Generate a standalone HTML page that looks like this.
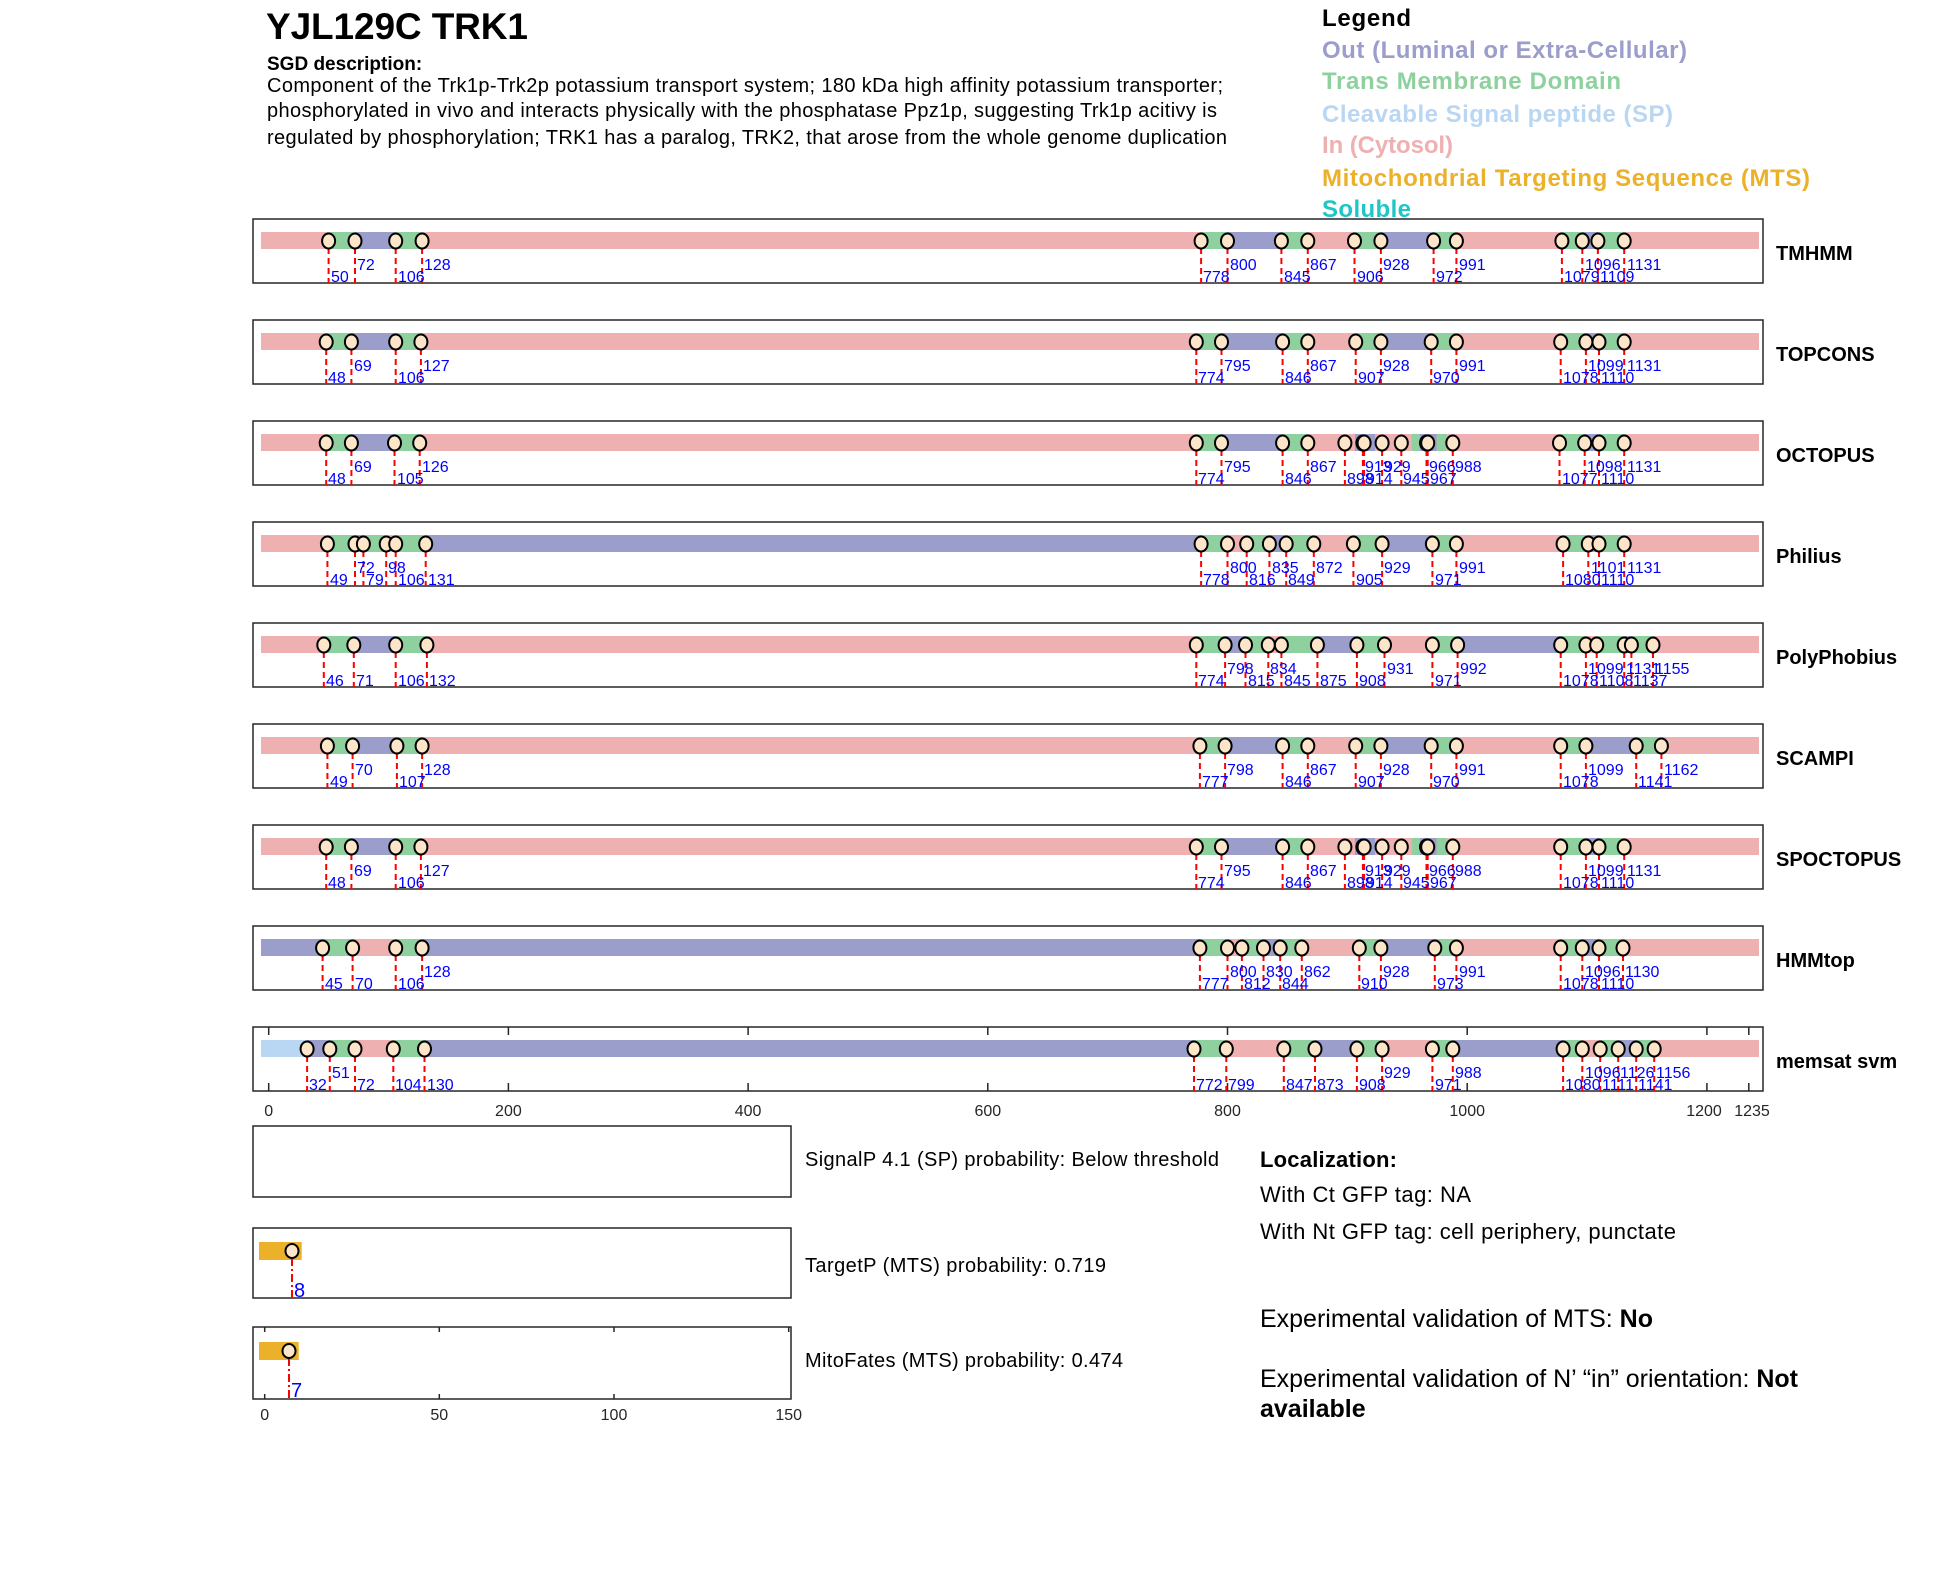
<!DOCTYPE html>
<html><head><meta charset="utf-8"><style>
html,body{margin:0;padding:0;background:#fff;}
svg{display:block;font-family:"Liberation Sans",Arial,sans-serif;}
.bx{fill:none;stroke:#262626;stroke-width:1.5}
.P{fill:#efb0b2}.B{fill:#9b9dcb}.G{fill:#8fd19e}.S{fill:#b9d6f2}.M{fill:#ecb12a}
.dl{fill:none;stroke:#ff0000;stroke-width:2;stroke-dasharray:6,4}
.dd{fill:none;stroke:#ff0000;stroke-width:2;stroke-dasharray:8,3,2,3}
ellipse{fill:#fde5c9;stroke:#000;stroke-width:2}
.l{fill:#0000ff;font-size:16px}
.tn{font-size:20px;font-weight:bold;fill:#000}
.tk{font-size:16px;fill:#262626;text-anchor:middle}
.tick{stroke:#262626;stroke-width:1.5}
</style></head><body>
<svg width="1950" height="1573" viewBox="0 0 1950 1573" xmlns="http://www.w3.org/2000/svg">
<rect width="1950" height="1573" fill="#fff"/>
<text x="266" y="39" font-size="37" font-weight="bold" textLength="262">YJL129C  TRK1</text>
<text x="267" y="70" font-size="19" font-weight="bold">SGD description:</text>
<text x="267" y="92" font-size="20" textLength="956">Component of the Trk1p-Trk2p potassium transport system; 180 kDa high affinity potassium transporter;</text>
<text x="267" y="117" font-size="20" textLength="950">phosphorylated in vivo and interacts physically with the phosphatase Ppz1p, suggesting Trk1p acitivy is</text>
<text x="267" y="144" font-size="20" textLength="960">regulated by phosphorylation; TRK1 has a paralog, TRK2, that arose from the whole genome duplication</text>

<g font-size="24" font-weight="bold">
<text x="1322" y="26" fill="#000" textLength="89">Legend</text>
<text x="1322" y="58" fill="#9b9dcb" textLength="365">Out (Luminal or Extra-Cellular)</text>
<text x="1322" y="89" fill="#8fd19e" textLength="299">Trans Membrane Domain</text>
<text x="1322" y="122" fill="#b9d6f2" textLength="351">Cleavable Signal peptide (SP)</text>
<text x="1322" y="153" fill="#efb0b2" textLength="131">In (Cytosol)</text>
<text x="1322" y="186" fill="#ecb12a" textLength="488">Mitochondrial Targeting Sequence (MTS)</text>
<text x="1322" y="217" fill="#1fc6c6" textLength="89">Soluble</text>
</g>

<!-- TMHMM -->
<g transform="translate(0,219)">
<rect class="bx" x="253" y="0" width="1510" height="64"/>
<rect class="P" x="261" y="13" width="1498" height="17"/>
<rect class="G" x="328.6" y="13" width="26.4" height="17"/><rect class="B" x="355" y="13" width="40.7" height="17"/><rect class="G" x="395.7" y="13" width="26.4" height="17"/>
<rect class="G" x="1201.1" y="13" width="26.4" height="17"/><rect class="B" x="1227.5" y="13" width="53.9" height="17"/><rect class="G" x="1281.4" y="13" width="26.4" height="17"/>
<rect class="G" x="1354.5" y="13" width="26.4" height="17"/><rect class="B" x="1380.9" y="13" width="52.7" height="17"/><rect class="G" x="1433.6" y="13" width="22.8" height="17"/>
<rect class="G" x="1561.9" y="13" width="20.4" height="17"/><rect class="B" x="1582.3" y="13" width="15.6" height="17"/><rect class="G" x="1597.9" y="13" width="26.3" height="17"/>
<path class="dl" d="M328.6 29V64M355 29V64M395.7 29V64M422.1 29V64M1201.1 29V64M1227.5 29V64M1281.4 29V64M1307.8 29V64M1354.5 29V64M1380.9 29V64M1433.6 29V64M1456.4 29V64M1561.9 29V64M1582.3 29V64M1597.9 29V64M1624.2 29V64"/>
<ellipse cx="328.6" cy="22" rx="6.5" ry="7.5"/><ellipse cx="355" cy="22" rx="6.5" ry="7.5"/><ellipse cx="395.7" cy="22" rx="6.5" ry="7.5"/><ellipse cx="422.1" cy="22" rx="6.5" ry="7.5"/><ellipse cx="1201.1" cy="22" rx="6.5" ry="7.5"/><ellipse cx="1227.5" cy="22" rx="6.5" ry="7.5"/><ellipse cx="1281.4" cy="22" rx="6.5" ry="7.5"/><ellipse cx="1307.8" cy="22" rx="6.5" ry="7.5"/><ellipse cx="1354.5" cy="22" rx="6.5" ry="7.5"/><ellipse cx="1380.9" cy="22" rx="6.5" ry="7.5"/><ellipse cx="1433.6" cy="22" rx="6.5" ry="7.5"/><ellipse cx="1456.4" cy="22" rx="6.5" ry="7.5"/><ellipse cx="1561.9" cy="22" rx="6.5" ry="7.5"/><ellipse cx="1582.3" cy="22" rx="6.5" ry="7.5"/><ellipse cx="1597.9" cy="22" rx="6.5" ry="7.5"/><ellipse cx="1624.2" cy="22" rx="6.5" ry="7.5"/>
<text class="l" x="331" y="63">50</text><text class="l" x="357" y="51">72</text><text class="l" x="398" y="63">106</text><text class="l" x="424" y="51">128</text><text class="l" x="1203" y="63">778</text><text class="l" x="1230" y="51">800</text><text class="l" x="1284" y="63">845</text><text class="l" x="1310" y="51">867</text><text class="l" x="1357" y="63">906</text><text class="l" x="1383" y="51">928</text><text class="l" x="1436" y="63">972</text><text class="l" x="1459" y="51">991</text><text class="l" x="1564" y="63">1079</text><text class="l" x="1585" y="51">1096</text><text class="l" x="1600" y="63">1109</text><text class="l" x="1627" y="51">1131</text>
<text class="tn" x="1776" y="41">TMHMM</text>
</g>

<!-- TOPCONS -->
<g transform="translate(0,320)">
<rect class="bx" x="253" y="0" width="1510" height="64"/>
<rect class="P" x="261" y="13" width="1498" height="17"/>
<rect class="G" x="326.2" y="13" width="25.2" height="17"/><rect class="B" x="351.4" y="13" width="44.3" height="17"/><rect class="G" x="395.7" y="13" width="25.2" height="17"/>
<rect class="G" x="1196.3" y="13" width="25.2" height="17"/><rect class="B" x="1221.5" y="13" width="61.1" height="17"/><rect class="G" x="1282.6" y="13" width="25.2" height="17"/>
<rect class="G" x="1355.7" y="13" width="25.2" height="17"/><rect class="B" x="1380.9" y="13" width="50.3" height="17"/><rect class="G" x="1431.2" y="13" width="25.2" height="17"/>
<rect class="G" x="1560.7" y="13" width="25.2" height="17"/><rect class="B" x="1585.9" y="13" width="13.1" height="17"/><rect class="G" x="1599" y="13" width="25.2" height="17"/>
<path class="dl" d="M326.2 29V64M351.4 29V64M395.7 29V64M420.9 29V64M1196.3 29V64M1221.5 29V64M1282.6 29V64M1307.8 29V64M1355.7 29V64M1380.9 29V64M1431.2 29V64M1456.4 29V64M1560.7 29V64M1585.9 29V64M1599 29V64M1624.2 29V64"/>
<ellipse cx="326.2" cy="22" rx="6.5" ry="7.5"/><ellipse cx="351.4" cy="22" rx="6.5" ry="7.5"/><ellipse cx="395.7" cy="22" rx="6.5" ry="7.5"/><ellipse cx="420.9" cy="22" rx="6.5" ry="7.5"/><ellipse cx="1196.3" cy="22" rx="6.5" ry="7.5"/><ellipse cx="1221.5" cy="22" rx="6.5" ry="7.5"/><ellipse cx="1282.6" cy="22" rx="6.5" ry="7.5"/><ellipse cx="1307.8" cy="22" rx="6.5" ry="7.5"/><ellipse cx="1355.7" cy="22" rx="6.5" ry="7.5"/><ellipse cx="1380.9" cy="22" rx="6.5" ry="7.5"/><ellipse cx="1431.2" cy="22" rx="6.5" ry="7.5"/><ellipse cx="1456.4" cy="22" rx="6.5" ry="7.5"/><ellipse cx="1560.7" cy="22" rx="6.5" ry="7.5"/><ellipse cx="1585.9" cy="22" rx="6.5" ry="7.5"/><ellipse cx="1599" cy="22" rx="6.5" ry="7.5"/><ellipse cx="1624.2" cy="22" rx="6.5" ry="7.5"/>
<text class="l" x="328" y="63">48</text><text class="l" x="354" y="51">69</text><text class="l" x="398" y="63">106</text><text class="l" x="423" y="51">127</text><text class="l" x="1198" y="63">774</text><text class="l" x="1224" y="51">795</text><text class="l" x="1285" y="63">846</text><text class="l" x="1310" y="51">867</text><text class="l" x="1358" y="63">907</text><text class="l" x="1383" y="51">928</text><text class="l" x="1433" y="63">970</text><text class="l" x="1459" y="51">991</text><text class="l" x="1563" y="63">1078</text><text class="l" x="1588" y="51">1099</text><text class="l" x="1601" y="63">1110</text><text class="l" x="1627" y="51">1131</text>
<text class="tn" x="1776" y="41">TOPCONS</text>
</g>

<!-- OCTOPUS -->
<g transform="translate(0,421)">
<rect class="bx" x="253" y="0" width="1510" height="64"/>
<rect class="P" x="261" y="13" width="1498" height="17"/>
<rect class="G" x="326.2" y="13" width="25.2" height="17"/><rect class="B" x="351.4" y="13" width="43.1" height="17"/><rect class="G" x="394.5" y="13" width="25.2" height="17"/>
<rect class="G" x="1196.3" y="13" width="25.2" height="17"/><rect class="B" x="1221.5" y="13" width="61.1" height="17"/><rect class="G" x="1282.6" y="13" width="25.2" height="17"/>
<rect class="B" x="1355" y="13" width="20" height="17"/><rect class="G" x="1411.7" y="13" width="8.3" height="17"/><rect class="B" x="1420" y="13" width="16.7" height="17"/><rect class="G" x="1436.7" y="13" width="10" height="17"/>
<rect class="G" x="1559.5" y="13" width="25.2" height="17"/><rect class="B" x="1584.7" y="13" width="14.3" height="17"/><rect class="G" x="1599" y="13" width="25.2" height="17"/>
<path class="dl" d="M326.2 29V64M351.4 29V64M394.5 29V64M419.7 29V64M1196.3 29V64M1221.5 29V64M1282.6 29V64M1307.8 29V64M1344.9 29V64M1362.9 29V64M1364.1 29V64M1382.1 29V64M1401.3 29V64M1426.5 29V64M1427.7 29V64M1452.8 29V64M1559.5 29V64M1584.7 29V64M1599 29V64M1624.2 29V64"/>
<ellipse cx="326.2" cy="22" rx="6.5" ry="7.5"/><ellipse cx="351.4" cy="22" rx="6.5" ry="7.5"/><ellipse cx="394.5" cy="22" rx="6.5" ry="7.5"/><ellipse cx="419.7" cy="22" rx="6.5" ry="7.5"/><ellipse cx="1196.3" cy="22" rx="6.5" ry="7.5"/><ellipse cx="1221.5" cy="22" rx="6.5" ry="7.5"/><ellipse cx="1282.6" cy="22" rx="6.5" ry="7.5"/><ellipse cx="1307.8" cy="22" rx="6.5" ry="7.5"/><ellipse cx="1344.9" cy="22" rx="6.5" ry="7.5"/><ellipse cx="1362.9" cy="22" rx="6.5" ry="7.5"/><ellipse cx="1364.1" cy="22" rx="6.5" ry="7.5"/><ellipse cx="1382.1" cy="22" rx="6.5" ry="7.5"/><ellipse cx="1401.3" cy="22" rx="6.5" ry="7.5"/><ellipse cx="1426.5" cy="22" rx="6.5" ry="7.5"/><ellipse cx="1427.7" cy="22" rx="6.5" ry="7.5"/><ellipse cx="1452.8" cy="22" rx="6.5" ry="7.5"/><ellipse cx="1559.5" cy="22" rx="6.5" ry="7.5"/><ellipse cx="1584.7" cy="22" rx="6.5" ry="7.5"/><ellipse cx="1599" cy="22" rx="6.5" ry="7.5"/><ellipse cx="1624.2" cy="22" rx="6.5" ry="7.5"/>
<text class="l" x="328" y="63">48</text><text class="l" x="354" y="51">69</text><text class="l" x="397" y="63">105</text><text class="l" x="422" y="51">126</text><text class="l" x="1198" y="63">774</text><text class="l" x="1224" y="51">795</text><text class="l" x="1285" y="63">846</text><text class="l" x="1310" y="51">867</text><text class="l" x="1347" y="63">898</text><text class="l" x="1365" y="51">913</text><text class="l" x="1366" y="63">914</text><text class="l" x="1384" y="51">929</text><text class="l" x="1403" y="63">945</text><text class="l" x="1429" y="51">966</text><text class="l" x="1430" y="63">967</text><text class="l" x="1455" y="51">988</text><text class="l" x="1562" y="63">1077</text><text class="l" x="1587" y="51">1098</text><text class="l" x="1601" y="63">1110</text><text class="l" x="1627" y="51">1131</text>
<text class="tn" x="1776" y="41">OCTOPUS</text>
</g>

<!-- Philius -->
<g transform="translate(0,522)">
<rect class="bx" x="253" y="0" width="1510" height="64"/>
<rect class="P" x="261" y="13" width="1498" height="17"/>
<rect class="G" x="327.4" y="13" width="27.6" height="17"/><rect class="B" x="355" y="13" width="8.4" height="17"/><rect class="G" x="363.4" y="13" width="22.8" height="17"/><rect class="G" x="395.7" y="13" width="30" height="17"/>
<rect class="B" x="425.7" y="13" width="775.4" height="17"/><rect class="G" x="1201.1" y="13" width="26.4" height="17"/><rect class="G" x="1246.7" y="13" width="22.7" height="17"/><rect class="B" x="1269.4" y="13" width="16.8" height="17"/><rect class="G" x="1286.2" y="13" width="27.6" height="17"/>
<rect class="G" x="1353.4" y="13" width="28.7" height="17"/><rect class="B" x="1382.1" y="13" width="50.3" height="17"/><rect class="G" x="1432.4" y="13" width="24" height="17"/>
<rect class="G" x="1563.1" y="13" width="25.2" height="17"/><rect class="B" x="1588.3" y="13" width="10.7" height="17"/><rect class="G" x="1599" y="13" width="25.2" height="17"/>
<path class="dl" d="M327.4 29V64M355 29V64M363.4 29V64M386.2 29V64M395.7 29V64M425.7 29V64M1201.1 29V64M1227.5 29V64M1246.7 29V64M1269.4 29V64M1286.2 29V64M1313.8 29V64M1353.4 29V64M1382.1 29V64M1432.4 29V64M1456.4 29V64M1563.1 29V64M1588.3 29V64M1599 29V64M1624.2 29V64"/>
<ellipse cx="327.4" cy="22" rx="6.5" ry="7.5"/><ellipse cx="355" cy="22" rx="6.5" ry="7.5"/><ellipse cx="363.4" cy="22" rx="6.5" ry="7.5"/><ellipse cx="386.2" cy="22" rx="6.5" ry="7.5"/><ellipse cx="395.7" cy="22" rx="6.5" ry="7.5"/><ellipse cx="425.7" cy="22" rx="6.5" ry="7.5"/><ellipse cx="1201.1" cy="22" rx="6.5" ry="7.5"/><ellipse cx="1227.5" cy="22" rx="6.5" ry="7.5"/><ellipse cx="1246.7" cy="22" rx="6.5" ry="7.5"/><ellipse cx="1269.4" cy="22" rx="6.5" ry="7.5"/><ellipse cx="1286.2" cy="22" rx="6.5" ry="7.5"/><ellipse cx="1313.8" cy="22" rx="6.5" ry="7.5"/><ellipse cx="1353.4" cy="22" rx="6.5" ry="7.5"/><ellipse cx="1382.1" cy="22" rx="6.5" ry="7.5"/><ellipse cx="1432.4" cy="22" rx="6.5" ry="7.5"/><ellipse cx="1456.4" cy="22" rx="6.5" ry="7.5"/><ellipse cx="1563.1" cy="22" rx="6.5" ry="7.5"/><ellipse cx="1588.3" cy="22" rx="6.5" ry="7.5"/><ellipse cx="1599" cy="22" rx="6.5" ry="7.5"/><ellipse cx="1624.2" cy="22" rx="6.5" ry="7.5"/>
<text class="l" x="330" y="63">49</text><text class="l" x="357" y="51">72</text><text class="l" x="366" y="63">79</text><text class="l" x="388" y="51">98</text><text class="l" x="398" y="63">106</text><text class="l" x="428" y="63">131</text><text class="l" x="1203" y="63">778</text><text class="l" x="1230" y="51">800</text><text class="l" x="1249" y="63">816</text><text class="l" x="1272" y="51">835</text><text class="l" x="1288" y="63">849</text><text class="l" x="1316" y="51">872</text><text class="l" x="1356" y="63">905</text><text class="l" x="1384" y="51">929</text><text class="l" x="1435" y="63">971</text><text class="l" x="1459" y="51">991</text><text class="l" x="1565" y="63">1080</text><text class="l" x="1591" y="51">1101</text><text class="l" x="1601" y="63">1110</text><text class="l" x="1627" y="51">1131</text>
<text class="tn" x="1776" y="41">Philius</text>
</g>

<!-- PolyPhobius -->
<g transform="translate(0,623)">
<rect class="bx" x="253" y="0" width="1510" height="64"/>
<rect class="P" x="261" y="13" width="1498" height="17"/>
<rect class="G" x="323.8" y="13" width="30" height="17"/><rect class="B" x="353.8" y="13" width="41.9" height="17"/><rect class="G" x="395.7" y="13" width="31.2" height="17"/>
<rect class="G" x="1196.3" y="13" width="28.8" height="17"/><rect class="B" x="1225.1" y="13" width="20.4" height="17"/><rect class="G" x="1245.5" y="13" width="22.8" height="17"/><rect class="G" x="1281.4" y="13" width="36" height="17"/><rect class="B" x="1317.4" y="13" width="39.5" height="17"/><rect class="G" x="1356.9" y="13" width="27.6" height="17"/>
<rect class="G" x="1432.4" y="13" width="25.2" height="17"/><rect class="B" x="1457.6" y="13" width="103.1" height="17"/><rect class="G" x="1560.7" y="13" width="25.2" height="17"/><rect class="G" x="1596.7" y="13" width="27.5" height="17"/><rect class="B" x="1624.2" y="13" width="7.2" height="17"/><rect class="G" x="1631.4" y="13" width="21.6" height="17"/>
<path class="dl" d="M323.8 29V64M353.8 29V64M395.7 29V64M426.9 29V64M1196.3 29V64M1225.1 29V64M1245.5 29V64M1268.3 29V64M1281.4 29V64M1317.4 29V64M1356.9 29V64M1384.5 29V64M1432.4 29V64M1457.6 29V64M1560.7 29V64M1585.9 29V64M1596.7 29V64M1624.2 29V64M1631.4 29V64M1653 29V64"/>
<ellipse cx="323.8" cy="22" rx="6.5" ry="7.5"/><ellipse cx="353.8" cy="22" rx="6.5" ry="7.5"/><ellipse cx="395.7" cy="22" rx="6.5" ry="7.5"/><ellipse cx="426.9" cy="22" rx="6.5" ry="7.5"/><ellipse cx="1196.3" cy="22" rx="6.5" ry="7.5"/><ellipse cx="1225.1" cy="22" rx="6.5" ry="7.5"/><ellipse cx="1245.5" cy="22" rx="6.5" ry="7.5"/><ellipse cx="1268.3" cy="22" rx="6.5" ry="7.5"/><ellipse cx="1281.4" cy="22" rx="6.5" ry="7.5"/><ellipse cx="1317.4" cy="22" rx="6.5" ry="7.5"/><ellipse cx="1356.9" cy="22" rx="6.5" ry="7.5"/><ellipse cx="1384.5" cy="22" rx="6.5" ry="7.5"/><ellipse cx="1432.4" cy="22" rx="6.5" ry="7.5"/><ellipse cx="1457.6" cy="22" rx="6.5" ry="7.5"/><ellipse cx="1560.7" cy="22" rx="6.5" ry="7.5"/><ellipse cx="1585.9" cy="22" rx="6.5" ry="7.5"/><ellipse cx="1596.7" cy="22" rx="6.5" ry="7.5"/><ellipse cx="1624.2" cy="22" rx="6.5" ry="7.5"/><ellipse cx="1631.4" cy="22" rx="6.5" ry="7.5"/><ellipse cx="1653" cy="22" rx="6.5" ry="7.5"/>
<text class="l" x="326" y="63">46</text><text class="l" x="356" y="63">71</text><text class="l" x="398" y="63">106</text><text class="l" x="429" y="63">132</text><text class="l" x="1198" y="63">774</text><text class="l" x="1227" y="51">798</text><text class="l" x="1248" y="63">815</text><text class="l" x="1270" y="51">834</text><text class="l" x="1284" y="63">845</text><text class="l" x="1320" y="63">875</text><text class="l" x="1359" y="63">908</text><text class="l" x="1387" y="51">931</text><text class="l" x="1435" y="63">971</text><text class="l" x="1460" y="51">992</text><text class="l" x="1563" y="63">1078</text><text class="l" x="1588" y="51">1099</text><text class="l" x="1599" y="63">1108</text><text class="l" x="1626" y="51">1131</text><text class="l" x="1633" y="63">1137</text><text class="l" x="1655" y="51">1155</text>
<text class="tn" x="1776" y="41">PolyPhobius</text>
</g>

<!-- SCAMPI -->
<g transform="translate(0,724)">
<rect class="bx" x="253" y="0" width="1510" height="64"/>
<rect class="P" x="261" y="13" width="1498" height="17"/>
<rect class="G" x="327.4" y="13" width="25.2" height="17"/><rect class="B" x="352.6" y="13" width="44.3" height="17"/><rect class="G" x="396.9" y="13" width="25.2" height="17"/>
<rect class="G" x="1199.9" y="13" width="25.2" height="17"/><rect class="B" x="1225.1" y="13" width="57.5" height="17"/><rect class="G" x="1282.6" y="13" width="25.2" height="17"/>
<rect class="G" x="1355.7" y="13" width="25.2" height="17"/><rect class="B" x="1380.9" y="13" width="50.3" height="17"/><rect class="G" x="1431.2" y="13" width="25.2" height="17"/>
<rect class="G" x="1560.7" y="13" width="25.2" height="17"/><rect class="B" x="1585.9" y="13" width="50.3" height="17"/><rect class="G" x="1636.2" y="13" width="25.2" height="17"/>
<path class="dl" d="M327.4 29V64M352.6 29V64M396.9 29V64M422.1 29V64M1199.9 29V64M1225.1 29V64M1282.6 29V64M1307.8 29V64M1355.7 29V64M1380.9 29V64M1431.2 29V64M1456.4 29V64M1560.7 29V64M1585.9 29V64M1636.2 29V64M1661.4 29V64"/>
<ellipse cx="327.4" cy="22" rx="6.5" ry="7.5"/><ellipse cx="352.6" cy="22" rx="6.5" ry="7.5"/><ellipse cx="396.9" cy="22" rx="6.5" ry="7.5"/><ellipse cx="422.1" cy="22" rx="6.5" ry="7.5"/><ellipse cx="1199.9" cy="22" rx="6.5" ry="7.5"/><ellipse cx="1225.1" cy="22" rx="6.5" ry="7.5"/><ellipse cx="1282.6" cy="22" rx="6.5" ry="7.5"/><ellipse cx="1307.8" cy="22" rx="6.5" ry="7.5"/><ellipse cx="1355.7" cy="22" rx="6.5" ry="7.5"/><ellipse cx="1380.9" cy="22" rx="6.5" ry="7.5"/><ellipse cx="1431.2" cy="22" rx="6.5" ry="7.5"/><ellipse cx="1456.4" cy="22" rx="6.5" ry="7.5"/><ellipse cx="1560.7" cy="22" rx="6.5" ry="7.5"/><ellipse cx="1585.9" cy="22" rx="6.5" ry="7.5"/><ellipse cx="1636.2" cy="22" rx="6.5" ry="7.5"/><ellipse cx="1661.4" cy="22" rx="6.5" ry="7.5"/>
<text class="l" x="330" y="63">49</text><text class="l" x="355" y="51">70</text><text class="l" x="399" y="63">107</text><text class="l" x="424" y="51">128</text><text class="l" x="1202" y="63">777</text><text class="l" x="1227" y="51">798</text><text class="l" x="1285" y="63">846</text><text class="l" x="1310" y="51">867</text><text class="l" x="1358" y="63">907</text><text class="l" x="1383" y="51">928</text><text class="l" x="1433" y="63">970</text><text class="l" x="1459" y="51">991</text><text class="l" x="1563" y="63">1078</text><text class="l" x="1588" y="51">1099</text><text class="l" x="1638" y="63">1141</text><text class="l" x="1664" y="51">1162</text>
<text class="tn" x="1776" y="41">SCAMPI</text>
</g>

<!-- SPOCTOPUS -->
<g transform="translate(0,825)">
<rect class="bx" x="253" y="0" width="1510" height="64"/>
<rect class="P" x="261" y="13" width="1498" height="17"/>
<rect class="G" x="326.2" y="13" width="25.2" height="17"/><rect class="B" x="351.4" y="13" width="44.3" height="17"/><rect class="G" x="395.7" y="13" width="25.2" height="17"/>
<rect class="G" x="1196.3" y="13" width="25.2" height="17"/><rect class="B" x="1221.5" y="13" width="61.1" height="17"/><rect class="G" x="1282.6" y="13" width="25.2" height="17"/>
<rect class="B" x="1355" y="13" width="20" height="17"/><rect class="G" x="1411.7" y="13" width="8.3" height="17"/><rect class="B" x="1420" y="13" width="16.7" height="17"/><rect class="G" x="1436.7" y="13" width="10" height="17"/>
<rect class="G" x="1560.7" y="13" width="25.2" height="17"/><rect class="B" x="1585.9" y="13" width="13.1" height="17"/><rect class="G" x="1599" y="13" width="25.2" height="17"/>
<path class="dl" d="M326.2 29V64M351.4 29V64M395.7 29V64M420.9 29V64M1196.3 29V64M1221.5 29V64M1282.6 29V64M1307.8 29V64M1344.9 29V64M1362.9 29V64M1364.1 29V64M1382.1 29V64M1401.3 29V64M1426.5 29V64M1427.7 29V64M1452.8 29V64M1560.7 29V64M1585.9 29V64M1599 29V64M1624.2 29V64"/>
<ellipse cx="326.2" cy="22" rx="6.5" ry="7.5"/><ellipse cx="351.4" cy="22" rx="6.5" ry="7.5"/><ellipse cx="395.7" cy="22" rx="6.5" ry="7.5"/><ellipse cx="420.9" cy="22" rx="6.5" ry="7.5"/><ellipse cx="1196.3" cy="22" rx="6.5" ry="7.5"/><ellipse cx="1221.5" cy="22" rx="6.5" ry="7.5"/><ellipse cx="1282.6" cy="22" rx="6.5" ry="7.5"/><ellipse cx="1307.8" cy="22" rx="6.5" ry="7.5"/><ellipse cx="1344.9" cy="22" rx="6.5" ry="7.5"/><ellipse cx="1362.9" cy="22" rx="6.5" ry="7.5"/><ellipse cx="1364.1" cy="22" rx="6.5" ry="7.5"/><ellipse cx="1382.1" cy="22" rx="6.5" ry="7.5"/><ellipse cx="1401.3" cy="22" rx="6.5" ry="7.5"/><ellipse cx="1426.5" cy="22" rx="6.5" ry="7.5"/><ellipse cx="1427.7" cy="22" rx="6.5" ry="7.5"/><ellipse cx="1452.8" cy="22" rx="6.5" ry="7.5"/><ellipse cx="1560.7" cy="22" rx="6.5" ry="7.5"/><ellipse cx="1585.9" cy="22" rx="6.5" ry="7.5"/><ellipse cx="1599" cy="22" rx="6.5" ry="7.5"/><ellipse cx="1624.2" cy="22" rx="6.5" ry="7.5"/>
<text class="l" x="328" y="63">48</text><text class="l" x="354" y="51">69</text><text class="l" x="398" y="63">106</text><text class="l" x="423" y="51">127</text><text class="l" x="1198" y="63">774</text><text class="l" x="1224" y="51">795</text><text class="l" x="1285" y="63">846</text><text class="l" x="1310" y="51">867</text><text class="l" x="1347" y="63">898</text><text class="l" x="1365" y="51">913</text><text class="l" x="1366" y="63">914</text><text class="l" x="1384" y="51">929</text><text class="l" x="1403" y="63">945</text><text class="l" x="1429" y="51">966</text><text class="l" x="1430" y="63">967</text><text class="l" x="1455" y="51">988</text><text class="l" x="1563" y="63">1078</text><text class="l" x="1588" y="51">1099</text><text class="l" x="1601" y="63">1110</text><text class="l" x="1627" y="51">1131</text>
<text class="tn" x="1776" y="41">SPOCTOPUS</text>
</g>

<!-- HMMtop -->
<g transform="translate(0,926)">
<rect class="bx" x="253" y="0" width="1510" height="64"/>
<rect class="P" x="261" y="13" width="1498" height="17"/>
<rect class="B" x="261" y="13" width="61.6" height="17"/><rect class="G" x="322.6" y="13" width="30" height="17"/><rect class="G" x="395.7" y="13" width="26.4" height="17"/><rect class="B" x="422.1" y="13" width="777.8" height="17"/>
<rect class="G" x="1199.9" y="13" width="27.6" height="17"/><rect class="G" x="1241.9" y="13" width="21.6" height="17"/><rect class="B" x="1263.5" y="13" width="16.7" height="17"/><rect class="G" x="1280.2" y="13" width="21.6" height="17"/>
<rect class="G" x="1359.3" y="13" width="21.6" height="17"/><rect class="B" x="1380.9" y="13" width="53.9" height="17"/><rect class="G" x="1434.8" y="13" width="21.6" height="17"/>
<rect class="G" x="1560.7" y="13" width="21.6" height="17"/><rect class="B" x="1582.3" y="13" width="16.7" height="17"/><rect class="G" x="1599" y="13" width="24" height="17"/>
<path class="dl" d="M322.6 29V64M352.6 29V64M395.7 29V64M422.1 29V64M1199.9 29V64M1227.5 29V64M1241.9 29V64M1263.5 29V64M1280.2 29V64M1301.8 29V64M1359.3 29V64M1380.9 29V64M1434.8 29V64M1456.4 29V64M1560.7 29V64M1582.3 29V64M1599 29V64M1623 29V64"/>
<ellipse cx="322.6" cy="22" rx="6.5" ry="7.5"/><ellipse cx="352.6" cy="22" rx="6.5" ry="7.5"/><ellipse cx="395.7" cy="22" rx="6.5" ry="7.5"/><ellipse cx="422.1" cy="22" rx="6.5" ry="7.5"/><ellipse cx="1199.9" cy="22" rx="6.5" ry="7.5"/><ellipse cx="1227.5" cy="22" rx="6.5" ry="7.5"/><ellipse cx="1241.9" cy="22" rx="6.5" ry="7.5"/><ellipse cx="1263.5" cy="22" rx="6.5" ry="7.5"/><ellipse cx="1280.2" cy="22" rx="6.5" ry="7.5"/><ellipse cx="1301.8" cy="22" rx="6.5" ry="7.5"/><ellipse cx="1359.3" cy="22" rx="6.5" ry="7.5"/><ellipse cx="1380.9" cy="22" rx="6.5" ry="7.5"/><ellipse cx="1434.8" cy="22" rx="6.5" ry="7.5"/><ellipse cx="1456.4" cy="22" rx="6.5" ry="7.5"/><ellipse cx="1560.7" cy="22" rx="6.5" ry="7.5"/><ellipse cx="1582.3" cy="22" rx="6.5" ry="7.5"/><ellipse cx="1599" cy="22" rx="6.5" ry="7.5"/><ellipse cx="1623" cy="22" rx="6.5" ry="7.5"/>
<text class="l" x="325" y="63">45</text><text class="l" x="355" y="63">70</text><text class="l" x="398" y="63">106</text><text class="l" x="424" y="51">128</text><text class="l" x="1202" y="63">777</text><text class="l" x="1230" y="51">800</text><text class="l" x="1244" y="63">812</text><text class="l" x="1266" y="51">830</text><text class="l" x="1282" y="63">844</text><text class="l" x="1304" y="51">862</text><text class="l" x="1361" y="63">910</text><text class="l" x="1383" y="51">928</text><text class="l" x="1437" y="63">973</text><text class="l" x="1459" y="51">991</text><text class="l" x="1563" y="63">1078</text><text class="l" x="1585" y="51">1096</text><text class="l" x="1601" y="63">1110</text><text class="l" x="1625" y="51">1130</text>
<text class="tn" x="1776" y="41">HMMtop</text>
</g>

<!-- memsat svm -->
<g transform="translate(0,1027)">
<rect class="bx" x="253" y="0" width="1510" height="64"/>
<path class="tick" d="M268.7 0v8M508.4 0v8M748.1 0v8M987.8 0v8M1227.5 0v8M1467.2 0v8M1706.9 0v8M1748.8 0v8M268.7 64v-8M508.4 64v-8M748.1 64v-8M987.8 64v-8M1227.5 64v-8M1467.2 64v-8M1706.9 64v-8M1748.8 64v-8"/>
<rect class="P" x="261" y="13" width="1498" height="17"/>
<rect class="S" x="261" y="13" width="46.1" height="17"/><rect class="B" x="307.1" y="13" width="22.7" height="17"/><rect class="G" x="329.8" y="13" width="25.2" height="17"/><rect class="G" x="393.3" y="13" width="31.2" height="17"/><rect class="B" x="424.5" y="13" width="769.5" height="17"/>
<rect class="G" x="1194" y="13" width="32.3" height="17"/><rect class="G" x="1283.8" y="13" width="31.2" height="17"/><rect class="B" x="1315" y="13" width="41.9" height="17"/><rect class="G" x="1356.9" y="13" width="25.2" height="17"/>
<rect class="G" x="1432.4" y="13" width="20.4" height="17"/><rect class="B" x="1452.8" y="13" width="110.3" height="17"/><rect class="G" x="1563.1" y="13" width="19.2" height="17"/><rect class="G" x="1600.2" y="13" width="18" height="17"/><rect class="B" x="1618.2" y="13" width="18" height="17"/><rect class="G" x="1636.2" y="13" width="18" height="17"/>
<path class="dl" d="M307.1 29V64M329.8 29V64M355 29V64M393.3 29V64M424.5 29V64M1194 29V64M1226.3 29V64M1283.8 29V64M1315 29V64M1356.9 29V64M1382.1 29V64M1432.4 29V64M1452.8 29V64M1563.1 29V64M1582.3 29V64M1600.2 29V64M1618.2 29V64M1636.2 29V64M1654.2 29V64"/>
<ellipse cx="307.1" cy="22" rx="6.5" ry="7.5"/><ellipse cx="329.8" cy="22" rx="6.5" ry="7.5"/><ellipse cx="355" cy="22" rx="6.5" ry="7.5"/><ellipse cx="393.3" cy="22" rx="6.5" ry="7.5"/><ellipse cx="424.5" cy="22" rx="6.5" ry="7.5"/><ellipse cx="1194" cy="22" rx="6.5" ry="7.5"/><ellipse cx="1226.3" cy="22" rx="6.5" ry="7.5"/><ellipse cx="1283.8" cy="22" rx="6.5" ry="7.5"/><ellipse cx="1315" cy="22" rx="6.5" ry="7.5"/><ellipse cx="1356.9" cy="22" rx="6.5" ry="7.5"/><ellipse cx="1382.1" cy="22" rx="6.5" ry="7.5"/><ellipse cx="1432.4" cy="22" rx="6.5" ry="7.5"/><ellipse cx="1452.8" cy="22" rx="6.5" ry="7.5"/><ellipse cx="1563.1" cy="22" rx="6.5" ry="7.5"/><ellipse cx="1582.3" cy="22" rx="6.5" ry="7.5"/><ellipse cx="1600.2" cy="22" rx="6.5" ry="7.5"/><ellipse cx="1618.2" cy="22" rx="6.5" ry="7.5"/><ellipse cx="1636.2" cy="22" rx="6.5" ry="7.5"/><ellipse cx="1654.2" cy="22" rx="6.5" ry="7.5"/>
<text class="l" x="309" y="63">32</text><text class="l" x="332" y="51">51</text><text class="l" x="357" y="63">72</text><text class="l" x="395" y="63">104</text><text class="l" x="427" y="63">130</text><text class="l" x="1196" y="63">772</text><text class="l" x="1228" y="63">799</text><text class="l" x="1286" y="63">847</text><text class="l" x="1317" y="63">873</text><text class="l" x="1359" y="63">908</text><text class="l" x="1384" y="51">929</text><text class="l" x="1435" y="63">971</text><text class="l" x="1455" y="51">988</text><text class="l" x="1565" y="63">1080</text><text class="l" x="1585" y="51">1096</text><text class="l" x="1602" y="63">1111</text><text class="l" x="1620" y="51">1126</text><text class="l" x="1638" y="63">1141</text><text class="l" x="1656" y="51">1156</text>
<text class="tn" x="1776" y="41">memsat svm</text>
</g>
<g>
<text class="tk" x="268.7" y="1116">0</text><text class="tk" x="508.4" y="1116">200</text><text class="tk" x="748.1" y="1116">400</text><text class="tk" x="987.8" y="1116">600</text><text class="tk" x="1227.5" y="1116">800</text><text class="tk" x="1467.2" y="1116">1000</text><text class="tk" x="1704" y="1116">1200</text><text class="tk" x="1752" y="1116">1235</text>
</g>

<!-- bottom panels -->
<rect class="bx" x="253" y="1126" width="538" height="71"/>
<rect class="bx" x="253" y="1228" width="538" height="70"/>
<rect class="M" x="259" y="1242" width="42.7" height="18"/>
<path class="dd" d="M292 1258V1298"/>
<ellipse cx="292" cy="1251" rx="6.5" ry="7"/>
<text x="294" y="1297" font-size="20" fill="#0000ff">8</text>
<rect class="bx" x="253" y="1327" width="538" height="72"/>
<path class="tick" d="M264.7 1327v5M439.3 1327v5M614 1327v5M788.7 1327v5M264.7 1399v-5M439.3 1399v-5M614 1399v-5"/>
<rect class="M" x="259" y="1342" width="39.7" height="18"/>
<path class="dd" d="M289 1358V1399"/>
<ellipse cx="289" cy="1351" rx="6.5" ry="7"/>
<text x="291" y="1397" font-size="20" fill="#0000ff">7</text>
<text class="tk" x="264.7" y="1420">0</text><text class="tk" x="439.3" y="1420">50</text><text class="tk" x="614" y="1420">100</text><text class="tk" x="788.7" y="1420">150</text>

<g font-size="20" fill="#000">
<text x="805" y="1166" textLength="414">SignalP 4.1 (SP) probability: Below threshold</text>
<text x="805" y="1272" textLength="301">TargetP (MTS) probability: 0.719</text>
<text x="805" y="1367" textLength="318">MitoFates (MTS) probability: 0.474</text>
</g>
<text x="1260" y="1167" font-size="22" font-weight="bold" textLength="137">Localization:</text>
<text x="1260" y="1202" font-size="22" textLength="211">With Ct GFP tag: NA</text>
<text x="1260" y="1239" font-size="22" textLength="416">With Nt GFP tag: cell periphery, punctate</text>
<text x="1260" y="1327" font-size="25" textLength="393">Experimental validation of MTS: <tspan font-weight="bold">No</tspan></text>
<text x="1260" y="1387" font-size="25" textLength="538">Experimental validation of N’ “in” orientation: <tspan font-weight="bold">Not</tspan></text>
<text x="1260" y="1417" font-size="25" font-weight="bold">available</text>
</svg>
</body></html>
